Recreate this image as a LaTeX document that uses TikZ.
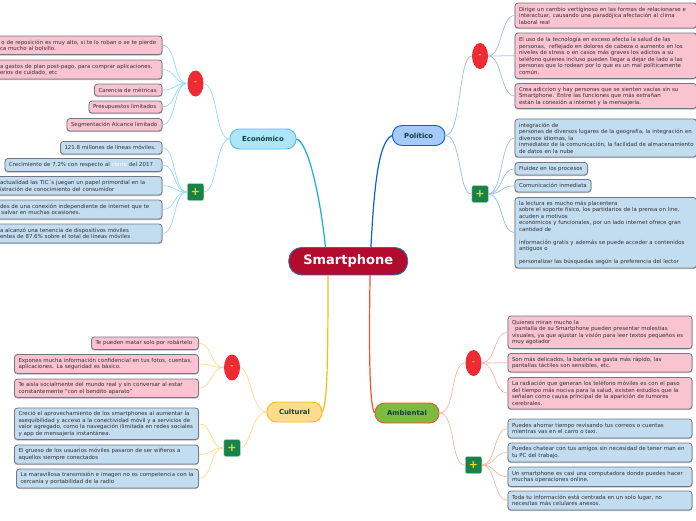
\documentclass[tikz,border=0pt]{standalone}
\usepackage{fontspec}
\setmainfont{DejaVu Sans}
\usetikzlibrary{shapes.geometric}
\definecolor{txtc}{HTML}{332F33}
\definecolor{pinkf}{HTML}{FAC3D0}
\definecolor{bluef}{HTML}{C2DCF0}
\definecolor{edgec}{HTML}{737682}
\definecolor{shadc}{HTML}{B9BBC0}
\definecolor{ecoc}{HTML}{12ABEB}
\definecolor{ecol}{HTML}{95DCFA}
\definecolor{polc}{HTML}{0D5FD0}
\definecolor{poll}{HTML}{9CC0F2}
\definecolor{culc}{HTML}{FDB813}
\definecolor{cull}{HTML}{FFDB8E}
\definecolor{ambc}{HTML}{E8562A}
\definecolor{ambl}{HTML}{FAB8A4}
\definecolor{topict}{HTML}{123F3A}
\tikzset{
  note/.style={rounded corners=3pt,draw=edgec,line width=.8pt,text=txtc,align=left,inner xsep=4pt,inner ysep=0pt,
    font=\fontsize{5.45}{6.5}\selectfont,
    preaction={draw=shadc,line width=1pt,transform canvas={yshift=-.6pt}}},
  pinknote/.style={note,fill=pinkf},
  bluenote/.style={note,fill=bluef},
  topic/.style={rounded corners=9.5pt,minimum height=20pt,inner sep=0pt,text=topict,font=\fontsize{6.9}{8}\bfseries\selectfont,line width=.9pt},
  minusnode/.style={ellipse,draw=none,fill={rgb,255:red,238;green,42;blue,52},minimum width=16pt,minimum height=26pt,inner sep=0pt,text={rgb,255:red,250;green,200;blue,30},font=\fontsize{8}{8}\bfseries\selectfont},
  plusnode/.style={rounded corners=2pt,fill={rgb,255:red,23;green,131;blue,74},draw={rgb,255:red,165;green,213;blue,181},line width=.5pt,minimum width=16.5pt,minimum height=17pt,inner sep=0pt,text={rgb,255:red,250;green,215;blue,20},font=\fontsize{11}{11}\bfseries\selectfont},
  main/.style={line width=1.2pt},
  sub/.style={line width=.75pt},
  leaf/.style={line width=.75pt}
}
% left, top, right, bottom
\newcommand\txtbox[7]{%
  \pgfmathsetmacro\cxv{(#3+#5)/2}%
  \pgfmathsetmacro\cyv{(#4+#6)/2}%
  \pgfmathsetmacro\hv{#6-#4}%
  \pgfmathsetmacro\twv{#5-#3-8}%
  \node[#2,text width=\twv pt,minimum height=\hv pt] (#1) at (\cxv,\cyv) {#7};%
}
\newcommand\leafl[3]{\draw[leaf,#1] (#2.west) .. controls +(-14,0) and +(14,0) .. (#3.east);}
\newcommand\leafr[3]{\draw[leaf,#1] (#2.east) .. controls +(14,0) and +(-14,0) .. (#3.west);}
\begin{document}
\begin{tikzpicture}[x=1pt,y=-1pt]
\useasboundingbox (0,0) rectangle (696,520);
% centre and topics
\node[rounded corners=13pt,fill={rgb,255:red,179;green,11;blue,46},draw={rgb,255:red,47;green,111;blue,176},line width=.9pt,minimum width=119pt,minimum height=27.5pt,inner sep=0pt,text=white,font=\fontsize{13}{14}\bfseries\selectfont] (smart) at (348.2,261.2) {Smartphone};
\node[topic,fill={rgb,255:red,174;green,229;blue,253},draw=ecoc!75,minimum width=66pt] (eco) at (263,139) {Económico};
\node[topic,fill={rgb,255:red,164;green,202;blue,252},draw=polc,minimum width=52.5pt] (pol) at (418.7,135.5) {Político};
\node[topic,fill={rgb,255:red,255;green,220;blue,140},draw=culc,minimum width=55pt] (cul) at (294.5,412) {Cultural};
\node[topic,fill={rgb,255:red,126;green,186;blue,64},draw=ambc,minimum width=64pt] (amb) at (407,413) {Ambiental};
% +/- nodes
\node[minusnode] (ecom) at (195.5,83.5) {-};
\node[plusnode] (ecop) at (195.5,192) {+};
\node[minusnode] (polm) at (480,56) {-};
\node[plusnode] (polp) at (480,194) {+};
\node[minusnode] (culm) at (232,367.5) {-};
\node[plusnode] (culp) at (232,448) {+};
\node[minusnode] (ambm) at (473.5,363) {-};
\node[plusnode] (ambp) at (473.5,465) {+};
% Economico notes
\txtbox{e1}{pinknote}{-4}{36}{162}{54.5}{\hspace*{1.5pt}o de reposición es muy alto, si te lo roban o se te pierde\\ca mucho al bolsillo.}
\txtbox{e2}{pinknote}{-4}{60}{162}{79}{a gastos de plan post-pago, para comprar aplicaciones,\\erios de cuidado, etc}
\txtbox{e3}{pinknote}{94.5}{84}{162}{96}{\mbox{Carencia de métricas}}
\txtbox{e4}{pinknote}{89}{101}{162}{113}{\mbox{Presupuestos limitados}}
\txtbox{e5}{pinknote}{67}{118.5}{162}{131}{\mbox{Segmentación Alcance limitado}}
\txtbox{e6}{bluenote}{60.5}{141.5}{162}{154}{\mbox{121.8 millones de líneas móviles.}}
\txtbox{e7}{bluenote}{5}{158.5}{162}{171.5}{\mbox{Crecimiento de 7.2\% con respecto al \textcolor{white}{cierre} del 2017}}
\txtbox{e8}{bluenote}{-4}{176.5}{162}{195}{actualidad las TIC´s juegan un papel primordial en la\\istración de conocimiento del consumidor}
\txtbox{e9}{bluenote}{-4}{200}{162}{219}{des de una conexión independiente de internet que te\\\hspace*{1.5pt}salvar en muchas ocasiones.}
\txtbox{e10}{bluenote}{-4}{224}{162}{243}{a alcanzó una tenencia de dispositivos móviles\\entes de 87.6\% sobre el total de líneas móviles}
% Politico notes
\txtbox{p1}{pinknote}{515}{3}{696.5}{28}{\mbox{Dirige un cambio vertiginoso en las formas de relacionarse e}\\interactuar, causando una paradójica afectación al clima\\laboral real}
\txtbox{p2}{pinknote}{515}{33}{696.5}{78.5}{El uso de la tecnología en exceso afecta la salud de las\\personas,\ \ reflejado en dolores de cabeza o aumento en los\\niveles de stress o en casos más graves los adictos a su\\\mbox{teléfono quienes incluso pueden llegar a dejar de lado a las}\\personas que lo rodean por lo que es un mal políticamente\\común.}
\txtbox{p3}{pinknote}{515}{83.5}{696.5}{108.5}{Crea adiccion y hay personas que se sienten vacías sin su\\Smartphone. Entre las funciones que más extrañan\\están la conexión a internet y la mensajería.}
\txtbox{p4}{bluenote}{515}{119}{696.5}{157}{integración de\\\mbox{personas de diversos lugares de la geografía, la integración en}\\diversos idiomas, la\\\mbox{inmediatez de la comunicación, la facilidad de almacenamiento}\\de datos en la nube}
\txtbox{p5}{bluenote}{515}{162.5}{587.5}{175}{\mbox{Fluidez en los procesos}}
\txtbox{p6}{bluenote}{515}{179.5}{591}{192}{\mbox{Comunicación inmediata}}
\txtbox{p7}{bluenote}{515}{197.5}{696.5}{268}{la lectura es mucho más placentera\\\mbox{sobre el soporte físico, los partidarios de la prensa on line,}\\acuden a motivos\\\mbox{económicos y funcionales, por un lado internet ofrece gran}\\cantidad de\\\mbox{}\\\mbox{información gratis y además se puede acceder a contenidos}\\antiguos o\\\mbox{}\\\mbox{personalizar las búsquedas según la preferencia del lector}}
% Cultural notes
\txtbox{c1}{pinknote}{91.5}{337}{198.5}{349.5}{\mbox{Te pueden matar solo por robártelo}}
\txtbox{c2}{pinknote}{14.5}{354.5}{198.5}{373.5}{\mbox{Expones mucha información confidencial en tus fotos, cuentas,}\\aplicaciones. La seguridad es básico.}
\txtbox{c3}{pinknote}{14.5}{379}{198.5}{397.5}{\mbox{Te aisla socialmente del mundo real y sin conversar al estar}\\constantemente “con el bendito aparato”}
\txtbox{c4}{bluenote}{14.5}{408}{198.5}{439.5}{\mbox{Creció el aprovechamiento de los smartphones al aumentar la}\\\mbox{asequibilidad y acceso a la conectividad móvil y a servicios de}\\\mbox{valor agregado, como la navegación ilimitada en redes sociales}\\y app de mensajería instantánea.}
\txtbox{c5}{bluenote}{14.5}{445}{198.5}{464}{\mbox{El grueso de los usuarios móviles pasaron de ser wifieros a}\\aquellos siempre conectados}
\txtbox{c6}{bluenote}{16.5}{469}{198.5}{488}{\mbox{La maravillosa transmisión e imagen no es competencia con la}\\cercanía y portabilidad de la radio}
% Ambiental notes
\txtbox{a1}{pinknote}{508}{316}{692}{348.5}{Quienes miran mucho la\\\hspace*{3pt}pantalla de su Smartphone pueden presentar molestias\\\mbox{visuales, ya que ajustar la visión para leer textos pequeños es}\\muy agotador}
\txtbox{a2}{pinknote}{508}{353.5}{692}{372}{Son más delicados, la batería se gasta más rápido, las\\pantallas táctiles son sensibles, etc.}
\txtbox{a3}{pinknote}{508}{377.5}{692}{409}{\mbox{La radiación que generan los teléfono móviles es con el paso}\\\mbox{del tiempo más nociva para la salud, existen estudios que la}\\señalan como causa principal de la aparición de tumores\\cerebrales.}
\txtbox{a4}{bluenote}{508}{419}{692}{438}{Puedes ahorrar tiempo revisando tus correos o cuentas\\mientras vas en el carro o taxi.}
\txtbox{a5}{bluenote}{508}{443}{692}{462}{\mbox{Puedes chatear con tus amigos sin necesidad de tener man en}\\tu PC del trabajo.}
\txtbox{a6}{bluenote}{508}{467}{692}{486.5}{\mbox{Un smartphone es casi una computadora donde puedes hacer}\\muchas operaciones online.}
\txtbox{a7}{bluenote}{508}{491}{692}{510}{Toda tu información está centrada en un solo lugar, no\\necesitas más celulares anexos.}
% main connectors
\draw[main,ecoc] (eco.east) .. controls (308,142) and (320,195) .. (smart.148);
\draw[main,polc] (pol.west) .. controls (378,142) and (374,190) .. (smart.32);
\draw[main,culc] (smart.215) .. controls (328,340) and (328,402) .. (cul.east);
\draw[main,ambc] (smart.-33.7) .. controls (369,340) and (369,405) .. (amb.west);
% sub connectors
\draw[sub,ecol] (eco.west) .. controls (215,139) and (218,85) .. (ecom.east);
\draw[sub,ecol] (eco.west) .. controls (215,141) and (218,190) .. (ecop.east);
\draw[sub,poll] (pol.east) .. controls (462,135) and (458,56) .. (polm.west);
\draw[sub,poll] (pol.east) .. controls (462,136) and (458,194) .. (polp.west);
\draw[sub,cull] (cul.west) .. controls (252,412) and (250,367.5) .. (culm.east);
\draw[sub,cull] (cul.west) .. controls (252,412) and (250,448) .. (culp.east);
\draw[sub,ambl] (amb.east) .. controls (456,413) and (450,363) .. (ambm.west);
\draw[sub,ambl] (amb.east) .. controls (456,413) and (450,465) .. (ambp.west);
% leaf connectors
\foreach \n in {e1,e2,e3,e4,e5}{\leafl{ecol}{ecom}{\n}}
\foreach \n in {e6,e7,e8,e9,e10}{\leafl{ecol}{ecop}{\n}}
\foreach \n in {p1,p2,p3}{\leafr{poll}{polm}{\n}}
\foreach \n in {p4,p5,p6,p7}{\leafr{poll}{polp}{\n}}
\foreach \n in {c1,c2,c3}{\leafl{cull}{culm}{\n}}
\foreach \n in {c4,c5,c6}{\leafl{cull}{culp}{\n}}
\foreach \n in {a1,a2,a3}{\leafr{ambl}{ambm}{\n}}
\foreach \n in {a4,a5,a6,a7}{\leafr{ambl}{ambp}{\n}}
\end{tikzpicture}
\end{document}
